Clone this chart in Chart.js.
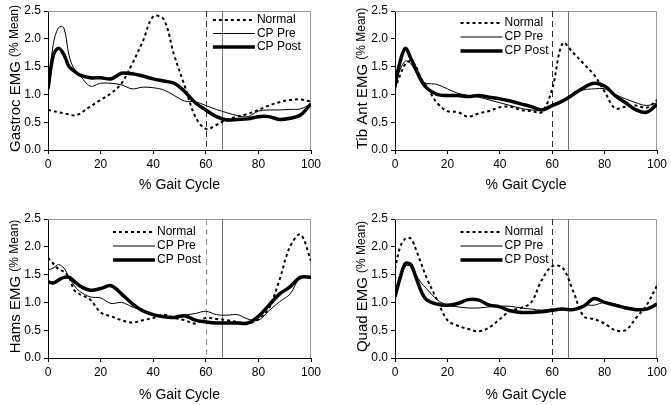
<!DOCTYPE html>
<html>
<head>
<meta charset="utf-8">
<script src="https://cdn.jsdelivr.net/npm/chart.js@4"></script>
<style>
  html, body { margin: 0; padding: 0; background: #fff; }
  body { width: 671px; height: 405px; position: relative; overflow: hidden; }
  .panel { position: absolute; }
</style>
</head>
<body>
<div class="panel" style="left:0;top:0;width:335px;height:200px"><canvas id="gastroc"></canvas></div>
<div class="panel" style="left:335px;top:0;width:336px;height:200px"><canvas id="tibant"></canvas></div>
<div class="panel" style="left:0;top:200px;width:335px;height:205px"><canvas id="hams"></canvas></div>
<div class="panel" style="left:335px;top:200px;width:336px;height:205px"><canvas id="quad"></canvas></div>
<script>
// ========== DATA ==========
// % gait cycle samples shared by every panel
const gaitPct = [0, 2, 4, 6, 8, 10, 12, 16, 20, 24, 28, 32, 36, 40, 44, 48, 52, 56, 60, 64, 68, 72, 76, 80, 84, 88, 92, 96, 100];

const seriesNames = ['Normal', 'CP Pre', 'CP Post'];

// Gastroc EMG (% mean)
const gastrocNormal = [0.72, 0.70, 0.68, 0.66, 0.64, 0.62, 0.65, 0.78, 0.90, 1.02, 1.20, 1.55, 1.95, 2.40, 2.35, 1.70, 1.15, 0.60, 0.38, 0.45, 0.55, 0.60, 0.65, 0.72, 0.80, 0.86, 0.90, 0.91, 0.87];
const gastrocPre    = [1.10, 1.90, 2.20, 2.20, 1.70, 1.45, 1.35, 1.15, 1.20, 1.20, 1.17, 1.10, 1.13, 1.12, 1.08, 0.98, 0.88, 0.87, 0.80, 0.73, 0.67, 0.62, 0.60, 0.70, 0.72, 0.72, 0.73, 0.74, 0.83];
const gastrocPost   = [1.10, 1.70, 1.83, 1.72, 1.50, 1.42, 1.35, 1.30, 1.30, 1.28, 1.38, 1.37, 1.33, 1.28, 1.24, 1.20, 1.05, 0.85, 0.72, 0.60, 0.54, 0.55, 0.56, 0.60, 0.60, 0.55, 0.57, 0.63, 0.83];

// Tib Ant EMG (% mean)
const tibNormal = [1.10, 1.35, 1.55, 1.60, 1.50, 1.28, 1.15, 0.85, 0.70, 0.68, 0.60, 0.66, 0.70, 0.77, 0.78, 0.72, 0.70, 0.68, 1.10, 1.92, 1.75, 1.55, 1.35, 1.05, 0.75, 0.78, 0.80, 0.76, 0.90];
const tibPre    = [1.20, 1.45, 1.60, 1.55, 1.40, 1.25, 1.20, 1.18, 1.10, 1.02, 0.98, 0.95, 0.90, 0.85, 0.80, 0.75, 0.72, 0.72, 0.82, 0.90, 1.00, 1.08, 1.10, 1.10, 1.00, 0.92, 0.85, 0.80, 0.85];
const tibPost   = [1.15, 1.60, 1.83, 1.65, 1.45, 1.25, 1.12, 1.00, 0.98, 0.98, 0.96, 0.98, 0.95, 0.92, 0.88, 0.83, 0.78, 0.72, 0.80, 0.88, 1.00, 1.12, 1.20, 1.15, 0.98, 0.85, 0.72, 0.68, 0.82];

// Hams EMG (% mean)
const hamsNormal = [1.80, 1.70, 1.60, 1.55, 1.45, 1.22, 1.15, 1.05, 0.82, 0.75, 0.68, 0.64, 0.68, 0.72, 0.78, 0.72, 0.68, 0.62, 0.72, 0.70, 0.68, 0.65, 0.62, 0.70, 0.90, 1.40, 2.00, 2.22, 1.75];
const hamsPre    = [1.58, 1.62, 1.68, 1.62, 1.45, 1.30, 1.20, 1.10, 1.08, 0.98, 1.00, 0.92, 0.85, 0.78, 0.74, 0.73, 0.77, 0.80, 0.84, 0.78, 0.77, 0.78, 0.70, 0.68, 0.85, 1.01, 1.15, 1.45, 1.45];
const hamsPost   = [1.37, 1.35, 1.40, 1.45, 1.45, 1.38, 1.30, 1.22, 1.25, 1.30, 1.15, 0.98, 0.85, 0.78, 0.74, 0.73, 0.76, 0.68, 0.65, 0.63, 0.63, 0.63, 0.63, 0.75, 0.95, 1.15, 1.28, 1.45, 1.45];

// Quad EMG (% mean)
const quadNormal = [1.60, 2.00, 2.15, 2.15, 1.95, 1.70, 1.45, 1.05, 0.68, 0.58, 0.52, 0.48, 0.55, 0.70, 0.85, 0.90, 1.00, 1.40, 1.65, 1.62, 1.20, 0.75, 0.70, 0.62, 0.50, 0.50, 0.72, 0.95, 1.30];
const quadPre    = [1.10, 1.40, 1.65, 1.65, 1.50, 1.35, 1.25, 1.05, 0.95, 0.92, 0.90, 0.90, 0.92, 0.93, 0.93, 0.90, 0.88, 0.86, 0.88, 0.87, 0.88, 0.95, 0.95, 1.00, 0.97, 0.92, 0.88, 0.88, 0.95];
const quadPost   = [1.10, 1.45, 1.70, 1.68, 1.45, 1.20, 1.05, 0.97, 0.95, 0.98, 1.05, 1.04, 0.95, 0.92, 0.85, 0.82, 0.82, 0.83, 0.86, 0.88, 0.87, 0.93, 1.07, 1.00, 0.95, 0.90, 0.87, 0.88, 0.97];

// toe-off markers (% gait cycle): normal and CP
const toeOffMarks = [60, 66];

// axis ticks
const xTicks = [0, 20, 40, 60, 80, 100];
const yTicks = [0, 0.5, 1.0, 1.5, 2.0, 2.5];

// ========== STYLES ==========
const FONT = '"Liberation Sans", Arial, sans-serif';
const lineStyles = [
  { borderWidth: 2, borderDash: [3, 3] },   // Normal
  { borderWidth: 1, borderDash: [] },       // CP Pre
  { borderWidth: 3.5, borderDash: [] }      // CP Post
];

// draws frame, toe-off lines, legend and axis titles
const emgDecor = {
  id: 'emgDecor',
  beforeDatasetsDraw(chart, args, opts) {
    const a = chart.chartArea, ctx = chart.ctx, xs = chart.scales.x;
    ctx.save();
    // light frame round the plot
    ctx.strokeStyle = '#9a9a9a';
    ctx.lineWidth = 1;
    ctx.beginPath();
    ctx.moveTo(a.left, a.top + 0.5);
    ctx.lineTo(a.right - 0.5, a.top + 0.5);
    ctx.lineTo(a.right - 0.5, a.bottom);
    ctx.stroke();
    // toe-off lines
    toeOffMarks.forEach((v, i) => {
      const px = Math.round(xs.getPixelForValue(v)) + 0.5;
      ctx.strokeStyle = i === 0 ? opts.dashColor : '#777';
      ctx.setLineDash(i === 0 ? [6, 4] : []);
      ctx.beginPath();
      ctx.moveTo(px, a.top);
      ctx.lineTo(px, a.bottom);
      ctx.stroke();
    });
    ctx.restore();
  },
  afterDraw(chart, args, opts) {
    const a = chart.chartArea, ctx = chart.ctx;
    ctx.save();
    // legend
    const lx = a.left + (a.right - a.left) * opts.legendX;
    chart.data.datasets.forEach((ds, i) => {
      const ly = a.top + opts.legendY + i * opts.legendGap;
      ctx.strokeStyle = '#000';
      ctx.lineWidth = ds.borderWidth;
      ctx.setLineDash(ds.borderDash);
      ctx.beginPath();
      ctx.moveTo(lx, ly);
      ctx.lineTo(lx + 42, ly);
      ctx.stroke();
      ctx.setLineDash([]);
      ctx.fillStyle = '#000';
      ctx.font = '12px ' + FONT;
      ctx.textBaseline = 'middle';
      ctx.textAlign = 'left';
      ctx.fillText(ds.label, lx + 44, ly);
    });
    // x title
    ctx.font = '14px ' + FONT;
    ctx.textAlign = 'center';
    ctx.textBaseline = 'middle';
    ctx.fillText('% Gait Cycle', (a.left + a.right) / 2, a.bottom + opts.xTitleY);
    // y title, big name + small unit
    ctx.translate(a.left - 32, (a.top + a.bottom) / 2 - 2);
    ctx.rotate(-Math.PI / 2);
    const big = '15px ' + FONT, small = '12px ' + FONT;
    ctx.font = big;
    const w1 = ctx.measureText(opts.yTitle + ' ').width;
    ctx.font = small;
    const w2 = ctx.measureText('(% Mean)').width;
    let x0 = -(w1 + w2) / 2;
    ctx.textAlign = 'left';
    ctx.font = big;
    ctx.fillText(opts.yTitle + ' ', x0, 0);
    ctx.font = small;
    ctx.fillText('(% Mean)', x0 + w1, -1);
    ctx.restore();
  }
};

function makePanel(id, yTitle, series, lay) {
  const datasets = series.map((vals, i) => ({
    label: seriesNames[i],
    data: gaitPct.map((x, j) => ({ x: x, y: vals[j] })),
    borderColor: '#000',
    borderWidth: lineStyles[i].borderWidth,
    borderDash: lineStyles[i].borderDash,
    pointRadius: 0,
    tension: 0.35,
    fill: false
  }));
  return new Chart(document.getElementById(id), {
    type: 'line',
    data: { datasets: datasets },
    options: {
      responsive: true,
      maintainAspectRatio: false,
      animation: false,
      layout: { padding: { top: lay.top, right: lay.right, left: 0, bottom: 0 } },
      plugins: {
        legend: { display: false },
        tooltip: { enabled: false },
        emgDecor: {
          yTitle: yTitle,
          legendX: lay.legendX, legendY: lay.legendY, legendGap: lay.legendGap,
          xTitleY: lay.xTitleY, dashColor: lay.dashColor
        }
      },
      scales: {
        x: {
          type: 'linear', min: 0, max: 100,
          afterBuildTicks: s => { s.ticks = xTicks.map(v => ({ value: v })); },
          afterFit: s => { s.height = lay.xHeight; },
          grid: { drawOnChartArea: false, drawTicks: true, tickLength: 4, color: '#000' },
          border: { display: true, color: '#000', width: 1 },
          ticks: { color: '#000', font: { family: FONT, size: 12 }, padding: 3, maxRotation: 0 }
        },
        y: {
          min: 0, max: 2.5,
          afterBuildTicks: s => { s.ticks = yTicks.map(v => ({ value: v })); },
          afterFit: s => { s.width = lay.yWidth; },
          grid: { drawOnChartArea: false, drawTicks: true, tickLength: 4, color: '#000' },
          border: { display: true, color: '#000', width: 1 },
          ticks: { color: '#000', font: { family: FONT, size: 12 }, padding: 3,
                   callback: v => Number(v).toFixed(1) }
        }
      }
    },
    plugins: [emgDecor]
  });
}

makePanel('gastroc', 'Gastroc EMG', [gastrocNormal, gastrocPre, gastrocPost],
  { top: 11, right: 24, yWidth: 48, xHeight: 50, legendX: 0.627, legendY: 9, legendGap: 13.5, xTitleY: 35, dashColor: '#333' });
makePanel('tibant', 'Tib Ant EMG', [tibNormal, tibPre, tibPost],
  { top: 11, right: 14, yWidth: 60, xHeight: 50, legendX: 0.25, legendY: 12, legendGap: 14, xTitleY: 35, dashColor: '#333' });
makePanel('hams', 'Hams EMG', [hamsNormal, hamsPre, hamsPost],
  { top: 19, right: 24, yWidth: 48, xHeight: 47, legendX: 0.247, legendY: 13, legendGap: 14, xTitleY: 37, dashColor: '#999' });
makePanel('quad', 'Quad EMG', [quadNormal, quadPre, quadPost],
  { top: 19, right: 14, yWidth: 60, xHeight: 47, legendX: 0.25, legendY: 13, legendGap: 14, xTitleY: 37, dashColor: '#333' });
</script>
</body>
</html>
